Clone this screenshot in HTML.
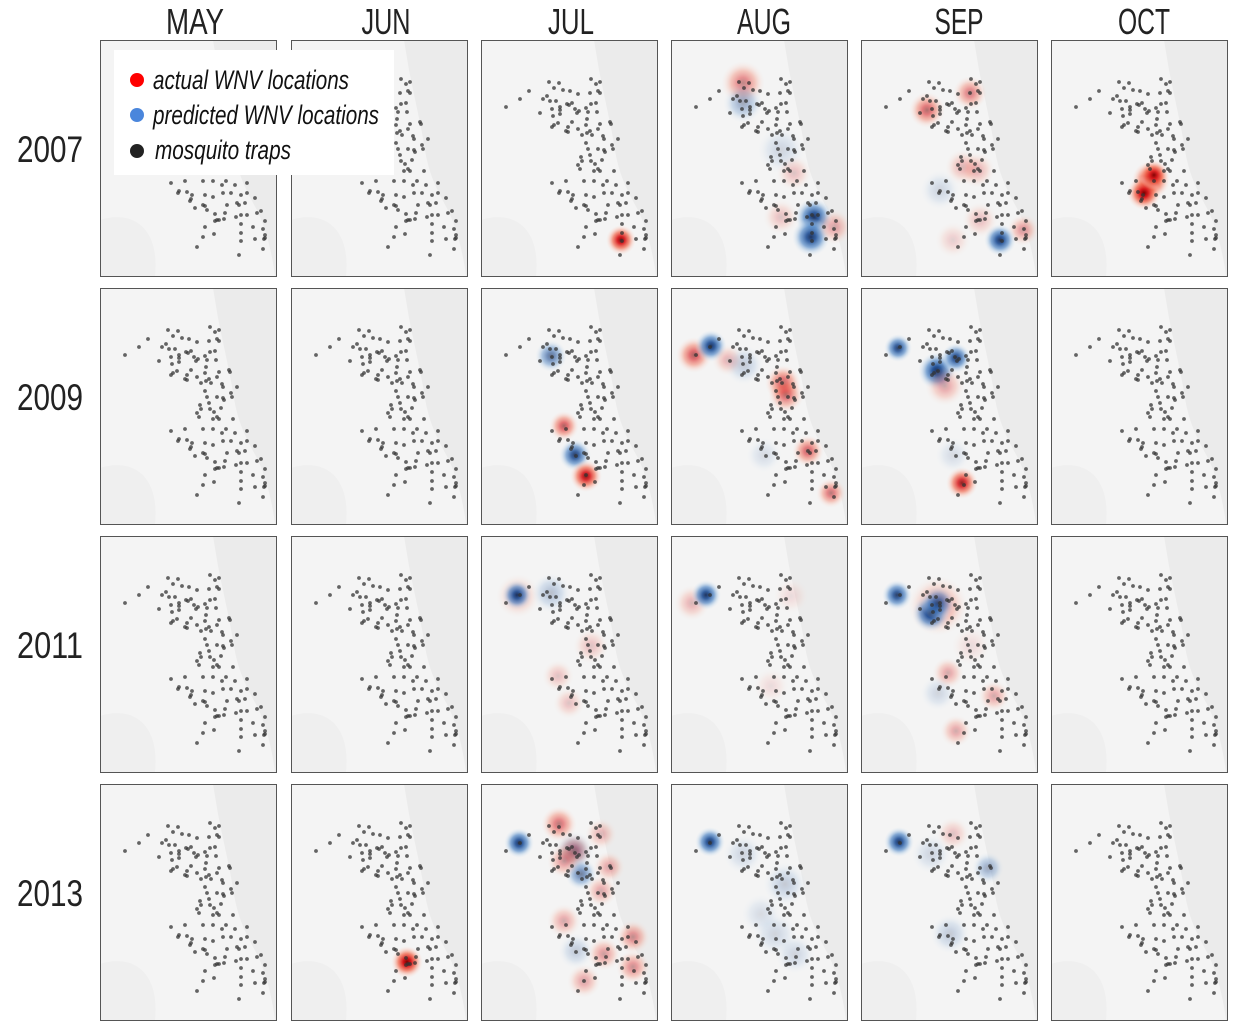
<!DOCTYPE html>
<html><head><meta charset="utf-8">
<style>
html,body{margin:0;padding:0;background:#fff;}
svg{display:block;font-family:"Liberation Sans Narrow","Liberation Sans",sans-serif;}
</style></head>
<body>
<svg id="fig" width="1242" height="1030" viewBox="0 0 1242 1030" xmlns="http://www.w3.org/2000/svg">
<defs>
<radialGradient id="gRed"><stop offset="0" stop-color="#7a0000"/><stop offset="0.25" stop-color="#d7191c"/><stop offset="0.55" stop-color="#f26a4f" stop-opacity="0.75"/><stop offset="0.8" stop-color="#f9b8a6" stop-opacity="0.35"/><stop offset="1" stop-color="#fde0d8" stop-opacity="0"/></radialGradient>
<radialGradient id="gBlue"><stop offset="0" stop-color="#08204f"/><stop offset="0.25" stop-color="#1f4f96"/><stop offset="0.55" stop-color="#4f86c6" stop-opacity="0.75"/><stop offset="0.8" stop-color="#a9c8e6" stop-opacity="0.35"/><stop offset="1" stop-color="#dceaf7" stop-opacity="0"/></radialGradient>
</defs>
<g id="grid"></g>
<g id="legend">
<rect x="114" y="50" width="280" height="125" fill="#fff"/>
<g><circle cx="137" cy="80" r="7" fill="#ff0000"/><text x="153" y="89" font-size="27" font-style="italic" fill="#111" textLength="196" lengthAdjust="spacingAndGlyphs">actual WNV locations</text></g>
<g><circle cx="137" cy="115" r="7" fill="#4a86dc"/><text x="153" y="124" font-size="27" font-style="italic" fill="#111" textLength="226" lengthAdjust="spacingAndGlyphs">predicted WNV locations</text></g>
<g><circle cx="137" cy="151" r="7" fill="#222"/><text x="155" y="159" font-size="27" font-style="italic" fill="#111" textLength="136" lengthAdjust="spacingAndGlyphs">mosquito traps</text></g>
</g>
</svg>
<script>
const months = ["MAY","JUN","JUL","AUG","SEP","OCT"];
const years = ["2007","2009","2011","2013"];
const trapX = [68,78,110,119,115,48,73,82,89,97,109,117,119,39,66,62,69,75,86,88,91,110,115,25,71,79,79,94,98,96,105,107,116,59,72,79,106,77,73,71,91,87,85,87,97,105,109,119,117,129,130,101,106,111,122,123,137,105,131,132,107,117,123,124,109,100,101,110,121,97,114,99,117,113,119,133,71,85,103,113,126,122,135,147,79,78,87,92,91,90,105,113,123,131,141,147,103,105,95,107,127,137,139,145,155,115,125,117,115,119,124,136,141,147,157,161,165,105,141,153,163,141,114,165,165,103,155,141,164,97,163,139];
const trapY = [42,43,39,42,44,51,48,50,51,54,53,51,53,59,56,59,61,61,64,65,63,64,63,67,69,67,70,69,71,73,68,72,72,73,76,74,79,83,85,87,82,87,91,92,89,85,91,84,89,82,84,95,93,95,96,99,99,103,105,109,109,109,110,112,115,117,121,121,120,125,124,129,129,131,131,131,143,141,141,141,141,145,145,143,151,153,152,155,159,161,155,157,153,153,155,153,165,166,168,170,165,163,165,163,158,174,173,180,181,180,179,177,175,175,173,171,181,187,184,187,189,193,194,195,198,197,199,201,199,207,209,215];
// blobs: panel index (row*6+col), map x, map y, kind (1=actual,0=predicted), strength, size
const blobPanel = [2, 3,3,3,3,3,3,3,3, 4,4,4,4,4,4,4,4,4, 5,5,5, 8,8,8,8, 9,9,9,9,9,9,9,9,9, 10,10,10,10,10,10, 14,14,14,14,14,14, 15,15,15,15, 16,16,16,16,16,16,16,16,16, 19, 20,20,20,20,20,20,20,20,20,20,20,20,20,20,20, 21,21,21,21,21,21, 22,22,22,22,22];
const blobX = [140, 72,72,110,123,143,140,163,110, 66,109,102,116,79,162,139,119,92, 100,93,103, 70,83,94,105, 23,40,57,73,112,115,137,160,93, 37,76,95,84,101,92, 37,36,70,110,77,88, 21,35,120,100, 77,36,70,77,87,133,95,77,110, 116, 38,78,93,93,100,128,120,120,83,152,123,152,103,95,83, 39,114,104,124,90,72, 38,127,89,92,70];
const blobY = [200, 43,63,110,133,177,197,187,177, 70,53,127,130,150,190,200,180,200, 140,153,135, 68,138,167,188, 67,58,72,77,95,107,163,205,167, 60,83,70,98,195,167, 60,59,57,110,140,167, 67,59,60,150, 70,59,77,67,137,160,195,157,110, 178, 59,40,67,67,90,83,50,107,137,153,170,183,197,167,77, 58,100,150,170,130,70, 58,84,150,50,70];
const blobKind = [1, 1,0,0,1,0,0,1,1, 1,1,1,1,0,1,0,1,1, 1,1,1, 0,1,0,1, 1,0,1,0,1,1,1,1,0, 0,0,0,1,1,0, 1,0,0,1,1,1, 1,0,1,1, 1,0,0,0,1,1,1,0,1, 1, 0,1,1,0,0,1,1,1,1,1,1,1,1,0,1, 0,0,0,0,0,0, 0,0,0,1,0];
const blobStrength = [0.95, 0.45,0.35,0.15,0.2,0.9,0.9,0.3,0.2, 0.55,0.45,0.25,0.25,0.15,0.35,0.9,0.2,0.15, 1,1,0.9, 0.6,0.6,0.85,0.9, 0.6,0.9,0.25,0.2,0.6,0.5,0.55,0.5,0.12, 0.85,0.95,0.85,0.3,0.85,0.12, 0.25,0.9,0.25,0.2,0.2,0.2, 0.25,0.9,0.1,0.1, 0.4,0.85,0.95,0.7,0.3,0.3,0.3,0.15,0.1, 1, 0.9,0.5,0.5,0.3,0.55,0.3,0.25,0.3,0.3,0.4,0.35,0.4,0.3,0.2,0.35, 0.9,0.2,0.15,0.15,0.12,0.15, 0.9,0.35,0.2,0.2,0.15];
const blobSize = [15, 22,20,24,18,19,19,18,18, 18,17,18,18,20,16,16,18,18, 19,17,15, 16,15,16,16, 18,16,16,20,18,18,16,15,18, 14,19,15,20,16,18, 22,15,20,18,16,16, 18,15,18,18, 30,15,19,17,16,16,16,18,20, 16, 15,18,18,20,16,16,16,16,17,17,17,17,17,18,17, 15,22,22,20,20,20, 15,16,20,17,20];

const colX = [100,291,481,671,861,1051];
const rowY = [40,288,536,784];
const headCX = [195,386,571,764,959,1144];
const headW = [58,49,46,54,49,52];
const PW = 176, PH = 236;
const NS = "http://www.w3.org/2000/svg";
const grid = document.getElementById('grid');
function mk(tag, attrs, parent){const e=document.createElementNS(NS,tag);for(const k in attrs)e.setAttribute(k,attrs[k]);parent.appendChild(e);return e;}
function px(col, x){return colX[col]+x;}
function py(row, y){return rowY[row]+y;}

months.forEach((m,c)=>{
  const t = mk('text',{x:headCX[c]-headW[c]/2,y:34,'font-size':'36',fill:'#222',textLength:headW[c],lengthAdjust:'spacingAndGlyphs'},grid);
  
  
  t.textContent = m;
});
years.forEach((yr,r)=>{
  const t = mk('text',{x:17,y:rowY[r]+PH/2+4,'font-size':'37',fill:'#222',textLength:66,lengthAdjust:'spacingAndGlyphs'},grid);
  
  
  t.textContent = yr;
});

for(let r=0;r<4;r++){for(let c=0;c<6;c++){
  const p=r*6+c;
  const g = mk('g',{},grid);
  
  
  const cid='clip'+p;
  const cp=mk('clipPath',{id:cid},g);
  mk('rect',{x:colX[c],y:rowY[r],width:PW,height:PH},cp);
  const inner=mk('g',{'clip-path':'url(#'+cid+')'},g);
  mk('rect',{x:colX[c],y:rowY[r],width:PW,height:PH,fill:'#f4f4f4'},inner);
  mk('path',{d:`M${px(c,0)},${py(r,180)} C${px(c,30)},${py(r,170)} ${px(c,60)},${py(r,185)} ${px(c,55)},${py(r,236)} L${px(c,0)},${py(r,236)} Z`,fill:'#efefef'},inner);
  const lake = mk('path',{d:`M${px(c,113)},${py(r,0)} L${px(c,176)},${py(r,0)} L${px(c,176)},${py(r,236)} L${px(c,175)},${py(r,236)} C${px(c,172)},${py(r,212)} ${px(c,166)},${py(r,190)} ${px(c,158)},${py(r,172)} C${px(c,146)},${py(r,150)} ${px(c,138)},${py(r,135)} ${px(c,134)},${py(r,110)} C${px(c,130)},${py(r,85)} ${px(c,124)},${py(r,60)} ${px(c,118)},${py(r,30)} Z`,fill:'#ebebeb'},inner);
  
  
  for(let i=0;i<blobPanel.length;i++){
    if(blobPanel[i]!==p) continue;
    const b = mk('circle',{cx:px(c,blobX[i]),cy:py(r,blobY[i]),r:blobSize[i],fill:blobKind[i]?'url(#gRed)':'url(#gBlue)',opacity:blobStrength[i]},inner);
    
    
  }
  for(let i=0;i<trapX.length;i++){
    const d = mk('circle',{cx:px(c,trapX[i]),cy:py(r,trapY[i]),r:1.9,fill:'#333','fill-opacity':0.75},inner);
    
    
  }
  const fr = mk('rect',{x:colX[c]+0.5,y:rowY[r]+0.5,width:PW,height:PH,fill:'none',stroke:'#555','stroke-width':1},g);
  
  
}}
document.getElementById('fig').appendChild(document.getElementById('legend'));
</script>
</body></html>
